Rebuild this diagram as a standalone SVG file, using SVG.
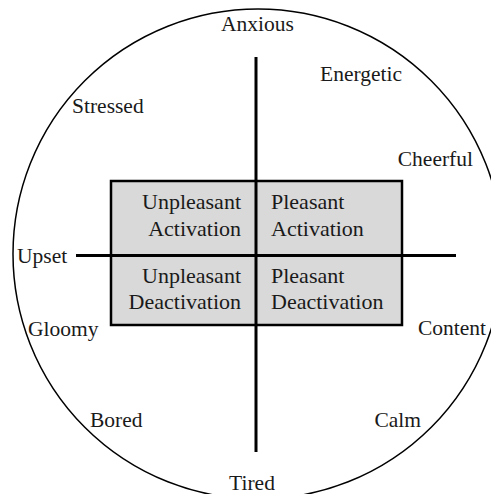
<svg xmlns="http://www.w3.org/2000/svg" width="491" height="494" viewBox="0 0 491 494">
<style>
text{font-family:'Liberation Serif','Times New Roman','DejaVu Serif',serif;font-size:21.5px;fill:#1a1a1a}
.b{font-size:22px}
.e{text-anchor:end}
.m{text-anchor:middle}
.ax{stroke:#000;stroke-width:3;fill:none}
</style>
<rect width="491" height="494" fill="#fff"/>
<g id="circle"><circle cx="258" cy="254" r="245" fill="none" stroke="#000" stroke-width="1.5"/></g>
<g id="grid"><rect x="111" y="181" width="291" height="144" fill="#d9d9d9" stroke="#000" stroke-width="2.5"/></g>
<g id="connectors">
<line class="ax" x1="256" y1="57" x2="256" y2="452"/>
<line class="ax" x1="76" y1="255.5" x2="456" y2="255.5"/>
</g>
<g id="q-ua"><text class="e b" x="241" y="209">Unpleasant</text><text class="e b" x="241" y="236">Activation</text></g>
<g id="q-pa"><text class="b" x="271" y="209">Pleasant</text><text class="b" x="271" y="236">Activation</text></g>
<g id="q-ud"><text class="e b" x="241" y="283">Unpleasant</text><text class="e b" x="241" y="309">Deactivation</text></g>
<g id="q-pd"><text class="b" x="271" y="283">Pleasant</text><text class="b" x="271" y="309">Deactivation</text></g>
<g id="anxious"><text class="m" x="257.5" y="31">Anxious</text></g>
<g id="energetic"><text x="320" y="81">Energetic</text></g>
<g id="stressed"><text x="72" y="113">Stressed</text></g>
<g id="cheerful"><text class="e" x="473" y="166">Cheerful</text></g>
<g id="upset"><text x="17" y="263">Upset</text></g>
<g id="gloomy"><text x="28" y="336">Gloomy</text></g>
<g id="content"><text class="e" x="486" y="335">Content</text></g>
<g id="bored"><text x="90" y="427">Bored</text></g>
<g id="calm"><text class="e" x="421" y="427">Calm</text></g>
<g id="tired"><text class="m" x="252" y="490">Tired</text></g>
</svg>
